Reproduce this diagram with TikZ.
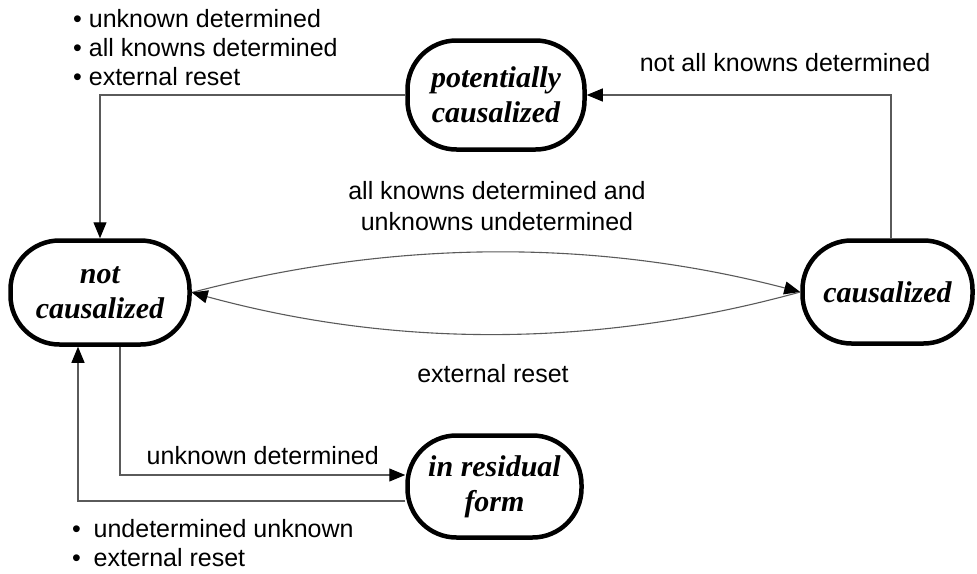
\documentclass[tikz,border=0pt]{standalone}
\usepackage{fontspec}
\setmainfont{Liberation Sans}
\newfontfamily\statefont{Liberation Serif}
\usetikzlibrary{arrows.meta}
\definecolor{wire}{HTML}{5A5A5A}
\begin{document}
\begin{tikzpicture}[x=1pt,y=-1pt,
  state/.style={draw=black, line width=4.5pt, rounded corners=49pt, inner sep=0pt,
    outer sep=2.25pt, align=center,
    font=\statefont\bfseries\itshape\fontsize{30}{35}\selectfont},
  wire/.style={draw=wire, line width=1.1pt,
    -{Triangle[length=16pt,width=13pt,color=black]}},
  lbl/.style={inner sep=0pt, font=\fontsize{25}{31}\selectfont},
]
\useasboundingbox (0,0) rectangle (977,573);

% states
\node[state, minimum width=177pt, minimum height=109pt] (pc) at (496,95) {potentially\\causalized};
\node[state, minimum width=179pt, minimum height=104pt] (nc) at (100,292.5) {not\\causalized};
\node[state, minimum width=170pt, minimum height=103pt] (cz) at (887.5,292) {causalized};
\node[state, minimum width=174pt, minimum height=102pt] (rf) at (494.5,486.5) {in residual\\form};

% transitions
\draw[wire] (pc.west) -| (nc.north);
\draw[wire] ([xshift=3.5pt]cz.north) |- (pc.east);
\draw[wire] ([xshift=20pt]nc.south) |- ([yshift=11.5pt]rf.west);
\draw[wire] ([yshift=-14.5pt]rf.west) -| ([xshift=-22pt]nc.south);
\draw[wire] (nc.east) .. controls (395,239) and (597,239) .. (cz.west);
\draw[wire] (cz.west) .. controls (597,348) and (395,348) .. (nc.east);

% transition labels
\node[lbl, anchor=base] (t1) at (785,71) {not all knowns determined};
\node[lbl, anchor=base] (m1) at (497,199) {all knowns determined and};
\node[lbl, anchor=base] (m2) at (497,230) {unknowns undetermined};
\node[lbl, anchor=base] (er) at (493,382) {external reset};
\node[lbl, anchor=base west] (ud) at (146.5,464) {unknown determined};

\node[lbl, anchor=base west] (l1) at (73,27) {• unknown determined};
\node[lbl, anchor=base west] (l2) at (73,56) {• all knowns determined};
\node[lbl, anchor=base west] (l3) at (73,85) {• external reset};

\node[lbl, anchor=base west] (b1) at (72,537) {\makebox[21.5pt][l]{•}undetermined unknown};
\node[lbl, anchor=base west] (b2) at (72,566) {\makebox[21.5pt][l]{•}external reset};
\end{tikzpicture}
\end{document}
